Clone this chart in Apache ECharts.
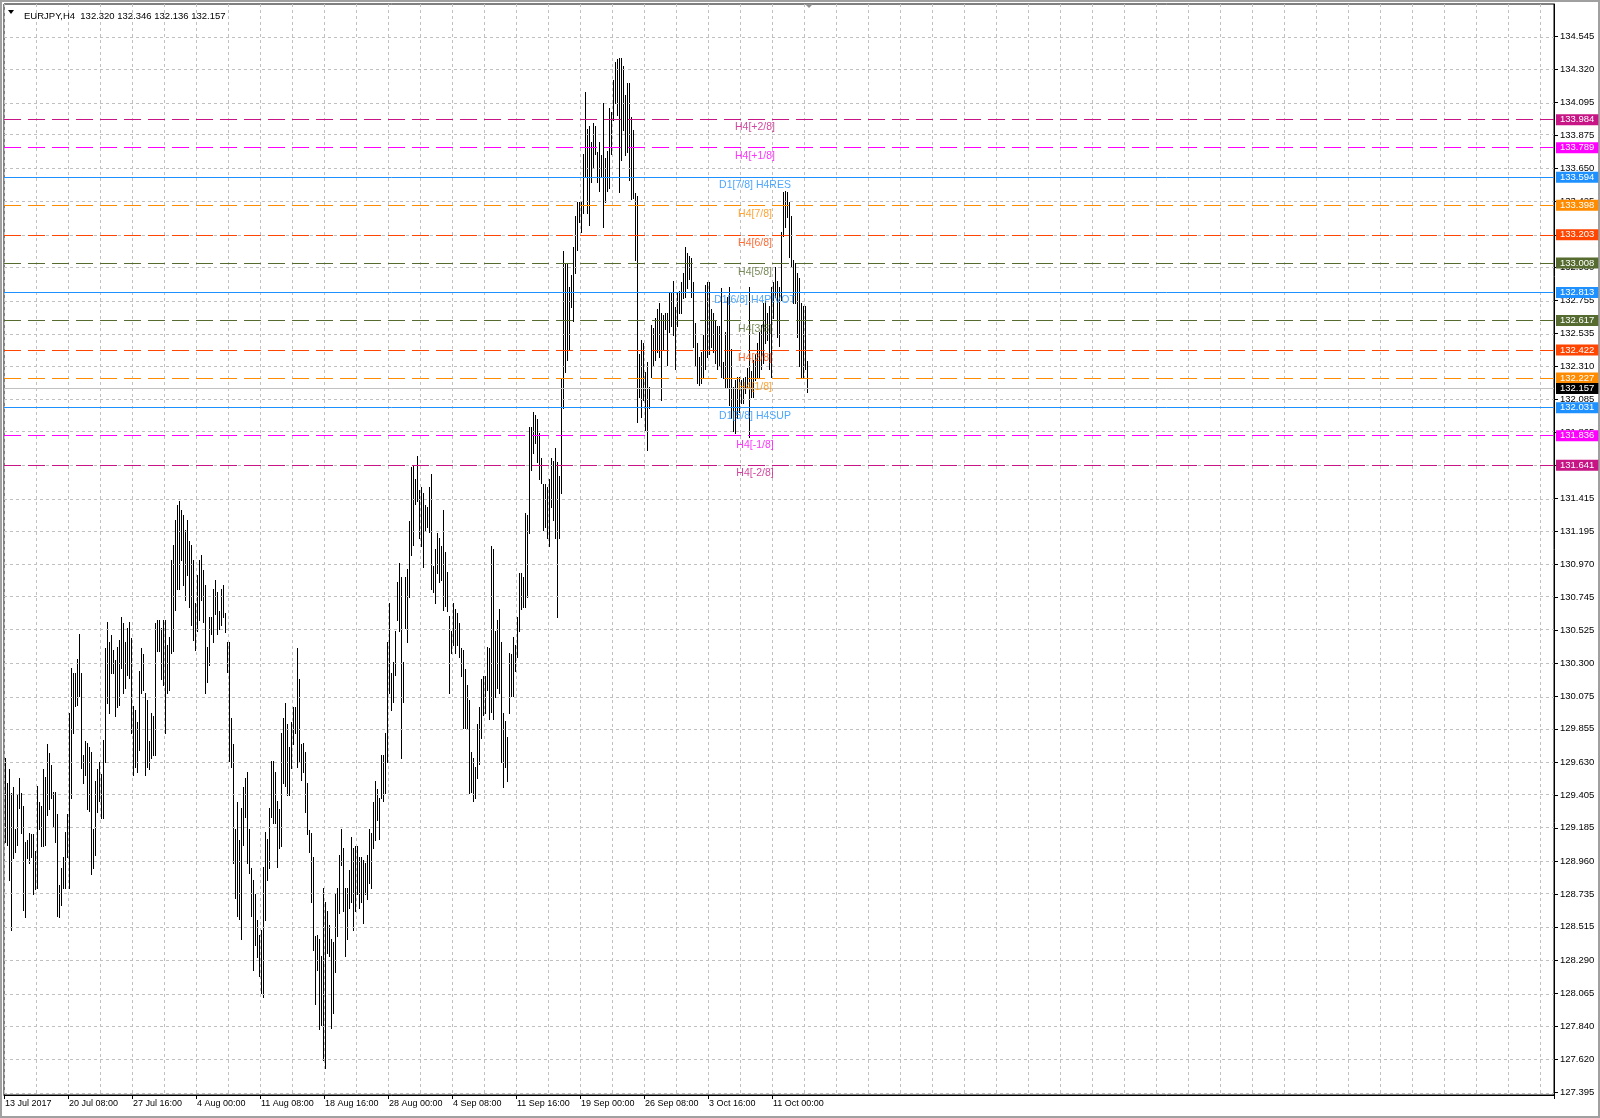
<!DOCTYPE html>
<html>
<head>
<meta charset="utf-8">
<title>EURJPY,H4</title>
<script src="https://cdn.jsdelivr.net/npm/echarts@6/dist/echarts.min.js"></script>
<style>
html, body { margin: 0; padding: 0; background: #fff; }
#chart { width: 1600px; height: 1118px; }
</style>
</head>
<body>
<div id="chart"></div>
<script>
// symbol header: open, high, low, close of the last bar
var symbolName = 'EURJPY,H4';
var lastBar = [132.320, 132.346, 132.136, 132.157];

// time axis: one label every 32 H4 bars
var timeLabels = ['13 Jul 2017', '20 Jul 08:00', '27 Jul 16:00', '4 Aug 00:00', '11 Aug 08:00',
    '18 Aug 16:00', '28 Aug 00:00', '4 Sep 08:00', '11 Sep 16:00', '19 Sep 00:00',
    '26 Sep 08:00', '3 Oct 16:00', '11 Oct 00:00'];
var barsPerLabel = 32;
var totalSlots = 775;

// bar highs / lows
var highs = [
    129.66, 129.49, 129.58, 129.42, 129.46, 129.18, 129.41, 129.52, 129.42, 129.33,
    129.09, 129.10, 129.15, 129.14, 129.14, 129.03, 129.47, 129.36, 129.33, 129.58,
    129.53, 129.75, 129.69, 129.61, 129.43, 129.43, 129.28, 128.80, 128.91, 128.99,
    129.16, 129.28, 129.96, 130.27, 130.23, 130.23, 130.33, 130.50, 130.23, 129.68,
    129.77, 129.76, 129.73, 129.70, 129.18, 129.50, 129.58, 129.63, 129.55, 129.78,
    130.40, 130.58, 130.44, 130.49, 130.39, 130.32, 130.41, 130.46, 130.61, 130.57,
    130.44, 130.54, 130.58, 130.47, 130.01, 129.98, 129.90, 130.25, 130.40, 130.36,
    130.10, 130.05, 129.77, 129.96, 129.94, 130.57, 130.59, 130.59, 130.54, 130.59,
    130.59, 130.42, 130.48, 131.00, 131.10, 131.27, 131.37, 131.40, 131.34, 131.30,
    131.20, 131.27, 131.13, 131.10, 131.00, 130.71, 130.90, 131.00, 131.03, 130.93,
    130.83, 130.41, 130.61, 130.61, 130.80, 130.86, 130.78, 130.65, 130.80, 130.83,
    130.64, 130.44, 130.44, 129.93, 129.75, 129.18, 129.36, 129.10, 129.32, 129.46,
    129.52, 129.56, 129.18, 128.91, 128.83, 128.74, 128.56, 128.46, 128.49, 128.92,
    129.16, 129.11, 129.32, 129.64, 129.64, 129.56, 129.37, 129.31, 129.83, 129.93,
    130.03, 129.89, 129.73, 129.90, 130.00, 130.00, 130.40, 130.19, 129.75, 129.76,
    129.70, 129.49, 129.17, 129.15, 128.99, 128.45, 128.46, 128.43, 128.32, 128.78,
    128.68, 128.62, 128.53, 128.43, 128.41, 128.74, 128.78, 129.00, 129.18, 129.05,
    128.78, 128.78, 128.90, 129.12, 129.05, 129.06, 129.06, 128.99, 128.99, 128.97,
    128.95, 129.00, 129.18, 129.15, 129.36, 129.50, 129.45, 129.39, 129.68, 129.68,
    129.83, 130.44, 130.71, 130.23, 130.31, 130.52, 130.85, 130.98, 130.88, 130.31,
    130.88, 130.94, 131.26, 131.63, 131.64, 131.55, 131.70, 131.47, 131.49, 131.45,
    131.37, 131.36, 131.49, 131.58, 130.96, 131.07, 131.18, 131.15, 131.09, 131.34,
    131.05, 130.92, 130.62, 130.52, 130.71, 130.67, 130.64, 130.57, 130.40, 130.39,
    130.26, 130.15, 130.05, 129.70, 129.66, 129.60, 129.89, 130.00, 130.19, 130.21,
    130.21, 130.41, 130.40, 131.09, 131.07, 130.52, 130.59, 130.67, 130.44, 129.96,
    129.91, 129.80, 130.37, 130.36, 130.48, 130.42, 130.61, 130.91, 130.91, 130.88,
    131.32, 131.30, 131.90, 131.90, 132.00, 131.98, 131.95, 131.86, 131.69, 131.51,
    131.51, 131.49, 131.55, 131.69, 131.67, 131.76, 131.66, 131.57, 132.23, 133.09,
    133.00, 133.00, 132.85, 132.93, 133.12, 133.33, 133.42, 133.42, 133.42, 133.75,
    134.17, 133.92, 133.94, 133.83, 133.96, 133.94, 133.76, 133.83, 133.74, 134.09,
    133.72, 133.77, 134.06, 134.03, 134.25, 134.37, 134.39, 134.40, 134.40, 134.34,
    134.15, 134.23, 134.23, 134.00, 133.91, 133.48, 133.46, 132.39, 132.49, 132.47,
    132.27, 132.34, 132.17, 132.59, 132.57, 132.64, 132.70, 132.74, 132.67, 132.66,
    132.67, 132.67, 132.81, 132.81, 132.89, 132.71, 132.81, 132.82, 132.88, 132.94,
    133.12, 133.08, 133.06, 133.04, 132.88, 132.60, 132.47, 132.37, 132.41, 132.52,
    132.86, 132.88, 132.88, 132.70, 132.67, 132.62, 132.58, 132.58, 132.84, 132.34,
    132.54, 132.78, 132.85, 132.43, 132.17, 132.22, 132.24, 132.24, 132.22, 132.23,
    132.24, 132.30, 132.85, 132.28, 132.35, 132.39, 132.47, 132.54, 132.59, 132.74,
    132.75, 132.67, 132.72, 132.85, 132.88, 132.98, 132.89, 132.85, 133.22, 133.49,
    133.50, 133.49, 133.42, 133.33, 133.03, 133.01, 132.94, 132.91, 132.74, 132.72,
    132.72, 132.346
];
var lows = [
    129.09, 129.07, 128.83, 128.49, 128.98, 129.02, 129.07, 129.32, 129.15, 128.63,
    128.58, 128.98, 128.95, 128.99, 128.74, 128.77, 128.78, 129.18, 129.06, 129.06,
    129.07, 129.27, 129.31, 129.39, 129.20, 129.09, 128.59, 128.58, 128.66, 128.78,
    128.78, 128.99, 128.78, 129.39, 129.83, 130.01, 130.02, 130.08, 129.59, 129.49,
    129.54, 129.31, 129.30, 128.87, 128.91, 129.00, 129.29, 129.37, 129.25, 129.25,
    129.63, 130.03, 129.96, 130.23, 130.23, 129.94, 130.00, 130.02, 130.27, 130.10,
    130.13, 130.22, 130.20, 129.83, 129.54, 129.60, 129.56, 129.71, 130.10, 130.12,
    129.54, 129.60, 129.58, 129.66, 129.68, 129.68, 130.38, 130.38, 130.19, 130.15,
    129.83, 130.10, 130.12, 130.37, 130.38, 130.66, 130.80, 130.80, 131.00, 130.83,
    130.73, 130.90, 130.68, 130.56, 130.46, 130.39, 130.52, 130.59, 130.73, 130.58,
    130.10, 130.17, 130.29, 130.50, 130.44, 130.63, 130.50, 130.53, 130.56, 130.61,
    130.51, 130.24, 129.64, 129.60, 128.95, 128.71, 128.59, 128.57, 128.43, 129.07,
    129.26, 128.95, 128.88, 128.59, 128.22, 128.39, 128.31, 128.18, 128.07, 128.04,
    128.56, 128.83, 128.91, 129.26, 129.22, 129.22, 128.92, 129.05, 129.06, 129.49,
    129.47, 129.41, 129.41, 129.59, 129.75, 129.83, 129.60, 129.63, 129.51, 129.56,
    129.29, 129.14, 129.02, 128.68, 128.36, 127.99, 128.22, 127.82, 127.85, 127.61,
    127.56, 128.34, 128.32, 127.83, 127.93, 128.21, 128.45, 128.61, 128.93, 128.62,
    128.32, 128.43, 128.64, 128.68, 128.49, 128.62, 128.74, 128.64, 128.68, 128.54,
    128.74, 128.70, 128.81, 128.78, 129.05, 129.10, 129.24, 129.11, 129.39, 129.37,
    129.42, 129.63, 130.10, 129.98, 130.04, 130.22, 130.59, 130.52, 129.66, 130.04,
    130.54, 130.44, 130.75, 131.03, 131.10, 131.38, 131.40, 131.15, 131.09, 130.95,
    131.20, 131.22, 131.19, 130.80, 130.78, 130.71, 130.91, 130.85, 130.86, 130.66,
    130.69, 130.65, 130.10, 130.37, 130.42, 130.37, 130.42, 130.34, 130.21, 129.86,
    129.86, 129.86, 129.42, 129.43, 129.37, 129.39, 129.52, 129.62, 129.79, 129.95,
    129.96, 130.12, 129.92, 129.97, 129.92, 130.07, 130.13, 130.10, 129.63, 129.46,
    129.60, 129.50, 129.96, 130.08, 130.08, 130.25, 130.34, 130.52, 130.67, 130.68,
    130.68, 130.75, 131.18, 131.61, 131.72, 131.79, 131.66, 131.55, 131.52, 131.20,
    131.22, 131.15, 131.09, 131.36, 131.27, 131.15, 130.61, 131.15, 131.45, 132.03,
    132.27, 132.35, 132.42, 132.71, 132.62, 132.94, 133.10, 133.29, 133.22, 133.35,
    133.59, 133.35, 133.27, 133.56, 133.66, 133.75, 133.56, 133.50, 133.59, 133.25,
    133.42, 133.50, 133.52, 133.75, 133.98, 134.09, 134.01, 133.49, 133.71, 133.91,
    133.74, 133.76, 133.57, 133.44, 133.45, 133.03, 131.93, 132.10, 131.97, 132.08,
    131.88, 131.74, 132.03, 132.24, 132.32, 132.35, 132.41, 132.37, 132.08, 132.43,
    132.56, 132.32, 132.54, 132.58, 132.52, 132.29, 132.58, 132.67, 132.67, 132.77,
    132.78, 132.84, 132.90, 132.78, 132.44, 132.32, 132.20, 132.18, 132.20, 132.24,
    132.29, 132.37, 132.39, 132.44, 132.41, 132.33, 132.29, 132.32, 132.24, 132.23,
    132.16, 132.17, 132.05, 131.96, 131.87, 131.86, 131.96, 132.00, 132.06, 132.06,
    132.13, 132.17, 131.83, 132.10, 132.10, 132.22, 132.24, 132.24, 132.29, 132.33,
    132.47, 132.49, 132.29, 132.24, 132.64, 132.78, 132.51, 132.45, 132.76, 133.19,
    133.25, 133.32, 133.05, 132.98, 132.74, 132.74, 132.51, 132.31, 132.24, 132.23,
    132.29, 132.136
];

// price scale tick labels
var priceTicks = [134.545, 134.320, 134.095, 133.875, 133.650, 133.425, 133.200, 132.980,
    132.755, 132.535, 132.310, 132.085, 131.865, 131.640, 131.415, 131.195, 130.970,
    130.745, 130.525, 130.300, 130.075, 129.855, 129.630, 129.405, 129.185, 128.960,
    128.735, 128.515, 128.290, 128.065, 127.840, 127.620, 127.395];
var priceMin = 127.376;
var priceMax = 134.763;

// Murrey math levels
var levelValues = [133.984, 133.789, 133.594, 133.398, 133.203, 133.008, 132.813,
    132.617, 132.422, 132.227, 132.031, 131.836, 131.641];
var levelNames = ['H4[+2/8]', 'H4[+1/8]', 'D1[7/8] H4RES', 'H4[7/8]', 'H4[6/8]', 'H4[5/8]',
    'D1[6/8] H4PIVOT', 'H4[3/8]', 'H4[2/8]', 'H4[1/8]', 'D1[5/8] H4SUP', 'H4[-1/8]', 'H4[-2/8]'];
var levelKinds = ['p2', 'p1', 'd1', 'l7', 'l6', 'l5', 'd1', 'l5', 'l6', 'l7', 'd1', 'p1', 'p2'];
var levelLabelBar = 375;

var kindColor = {
    p2: '#c71585', p1: '#ff00ff', d1: '#1e90ff',
    l7: '#ff8c00', l6: '#ff4500', l5: '#556b2f'
};
var fontFamily = '"Liberation Sans", Arial, sans-serif';

/**
 * 页面加载完成后绘制图表
 */
document.addEventListener('DOMContentLoaded', function () {
    drawChart();
});

/**
 * H4 柱状图 + Murrey 水平线
 */
function drawChart() {
    var myChart = echarts.init(document.getElementById('chart'));

    var cats = [];
    for (var i = 0; i < totalSlots; i++) {
        var k = i / barsPerLabel;
        cats.push(i % barsPerLabel === 0 && k < timeLabels.length ? timeLabels[k] : '');
    }
    var showLabel = function (index, value) { return value !== ''; };

    var bars = highs.map(function (h, i) { return [i, h, lows[i]]; });

    var levelLines = levelValues.map(function (v, i) {
        var c = kindColor[levelKinds[i]];
        return {
            yAxis: v,
            lineStyle: { color: c, width: 1, type: levelKinds[i] === 'd1' ? 'solid' : [17, 7] },
            label: {
                show: true, position: 'end', distance: 2, formatter: v.toFixed(3),
                color: '#fff', backgroundColor: c, padding: [1, 4, 0, 4],
                fontSize: 9.5, fontFamily: fontFamily
            }
        };
    });
    levelLines.push({
        yAxis: lastBar[3],
        lineStyle: { color: '#c0c0c0', width: 1, type: 'solid' },
        label: {
            show: true, position: 'end', distance: 2, formatter: lastBar[3].toFixed(3),
            color: '#fff', backgroundColor: '#000', padding: [1, 4, 0, 4],
            fontSize: 9.5, fontFamily: fontFamily
        }
    });

    var option = {
        animation: false,
        backgroundColor: '#fff',
        title: {
            text: symbolName + '  ' + lastBar.map(function (v) { return v.toFixed(3); }).join(' '),
            left: 19, top: 6,
            textStyle: { fontSize: 9.5, fontWeight: 'normal', color: '#000', fontFamily: fontFamily }
        },
        graphic: [
            { type: 'rect', shape: { x: 1, y: 1, width: 1598, height: 1116 }, style: { fill: 'none', stroke: '#a0a0a0', lineWidth: 2 }, silent: true },
            { type: 'polygon', shape: { points: [[8, 10], [14, 10], [11, 14]] }, style: { fill: '#000' }, silent: true },
            { type: 'polygon', shape: { points: [[805, 4], [813, 4], [809, 8]] }, style: { fill: '#909090' }, silent: true }
        ],
        grid: {
            left: 4, right: 46, top: 4, bottom: 23,
            show: true, borderColor: '#000', borderWidth: 1, backgroundColor: '#fff'
        },
        xAxis: {
            type: 'category', data: cats, boundaryGap: true,
            axisLine: { lineStyle: { color: '#000' } },
            axisTick: { show: true, interval: showLabel, length: 4, lineStyle: { color: '#000' } },
            axisLabel: { interval: showLabel, align: 'left', color: '#000', fontSize: 9, margin: 4, fontFamily: fontFamily },
            splitLine: { show: true, interval: 15, lineStyle: { color: '#c0c0c0', type: [3, 3] } }
        },
        yAxis: {
            type: 'value', position: 'right', min: priceMin, max: priceMax,
            axisLine: { show: true, lineStyle: { color: '#000' } },
            axisTick: { show: true, customValues: priceTicks, length: 4, lineStyle: { color: '#000' } },
            axisLabel: {
                customValues: priceTicks, margin: 6, color: '#000', fontSize: 9.5, fontFamily: fontFamily,
                formatter: function (v) { return v.toFixed(3); }
            },
            splitLine: { show: false }
        },
        series: [
            {
                // horizontal grid
                type: 'line', data: [], silent: true, z: 1,
                markLine: {
                    silent: true, symbol: ['none', 'none'], animation: false,
                    label: { show: false },
                    lineStyle: { color: '#c0c0c0', type: [3, 3], width: 1 },
                    data: priceTicks.map(function (v) { return { yAxis: v }; })
                }
            },
            {
                type: 'custom', z: 3, silent: true,
                data: bars,
                encode: { x: 0, y: [1, 2] },
                renderItem: function (params, api) {
                    var top = api.coord([api.value(0), api.value(1)]);
                    var bot = api.coord([api.value(0), api.value(2)]);
                    var x = Math.round(top[0]) + 0.5;
                    return {
                        type: 'line',
                        shape: { x1: x, y1: Math.round(top[1]), x2: x, y2: Math.round(bot[1]) + 1 },
                        style: { stroke: '#000', lineWidth: 1 }
                    };
                }
            },
            {
                type: 'line', data: [], silent: true, z: 4,
                markLine: {
                    silent: true, symbol: ['none', 'none'], animation: false,
                    data: levelLines
                }
            },
            {
                type: 'scatter', symbolSize: 0, silent: true, z: 5,
                data: levelValues.map(function (v, i) {
                    return { value: [levelLabelBar, v], label: { color: kindColor[levelKinds[i]] } };
                }),
                label: {
                    show: true, position: 'bottom', distance: 3, fontSize: 10.5, fontFamily: fontFamily,
                    formatter: function (p) { return levelNames[p.dataIndex]; }
                }
            }
        ]
    };
    if (option && typeof option === "object") {
        myChart.setOption(option, true);
    }
    window.addEventListener('resize', function () { myChart.resize(); });
}
</script>
</body>
</html>
